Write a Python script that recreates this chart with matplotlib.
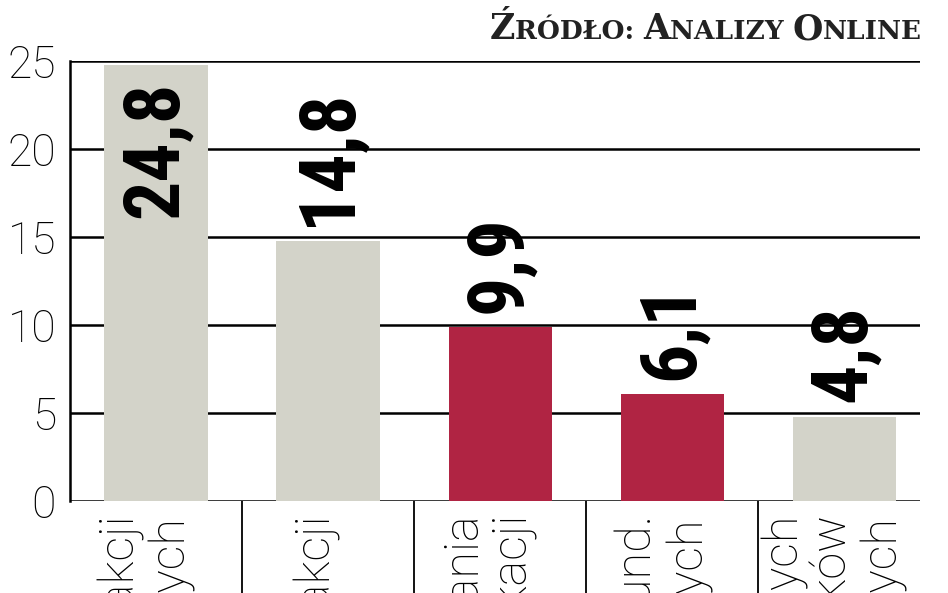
import matplotlib
matplotlib.use("Agg")
import matplotlib.pyplot as plt
from matplotlib.offsetbox import TextArea, HPacker, AnnotationBbox

# data
categories = ["Fundusze akcji\nzagranicznych",
              "Fundusze akcji",
              "Fundusze inwestowania\naktywnej alokacji",
              "Obligacji i fund.\nuniwersalnych",
              "Fundusze dłużnych\npapierów skarbowych i rynków\nzagranicznych"]
values = [24.8, 14.8, 9.9, 6.1, 4.8]
value_labels = ["24,8", "14,8", "9,9", "6,1", "4,8"]
highlight = [False, False, True, True, False]
yticks = [0, 5, 10, 15, 20, 25]

GRAY = "#d3d3c9"
RED = "#b02443"
LIGHT = ["Roboto", "DejaVu Sans"]
BOLD = ["Roboto Condensed", "DejaVu Sans"]
SLAB = ["DejaVu Serif"]

fig = plt.figure(figsize=(9.48, 5.93), dpi=100)
ax = fig.add_axes([70/948, 92/593, 850/948, 440/593])

x = list(range(len(values)))
cols = [RED if h else GRAY for h in highlight]
ax.bar(x, values, width=0.6, color=cols, zorder=2)

ax.set_xlim(-0.5, 4.44)
ax.set_ylim(0, 25)

for t in yticks:
    ax.axhline(t, color="black", lw=1.8, zorder=1)

for s in ["top", "right", "bottom"]:
    ax.spines[s].set_visible(False)
ax.spines["left"].set_linewidth(1.8)
ax.spines["left"].set_zorder(3)

ax.set_yticks(yticks)
ax.set_yticklabels([str(t) for t in yticks])
ax.tick_params(axis="y", length=0, pad=10)
ax.set_xticks([])
for lab in ax.get_yticklabels():
    lab.set_family(LIGHT)
    lab.set_fontweight("light")
    lab.set_fontsize(32)

# separators below the axis
ax.vlines([0.5, 1.5, 2.5, 3.5], -6, 0, color="black", lw=1.3, clip_on=False)

# value labels
vfont = dict(family=BOLD, weight="bold", fontsize=56, rotation=90,
             ha="center", color="black", zorder=4)
for i, (v, lbl) in enumerate(zip(values, value_labels)):
    if v > 20:
        ax.text(i, v - 0.9, lbl, va="top", **vfont)
    else:
        ax.text(i, v + 0.8, lbl, va="bottom", **vfont)

# category labels (cut off by the figure edge)
for i, c in enumerate(categories):
    ax.text(i - 0.06, -0.8, c, rotation=90, ha="center", va="top",
            multialignment="right", fontsize=35, fontweight="light",
            family=LIGHT, linespacing=1.05, clip_on=False)

# source in small caps
parts = [("Ź", 25), ("RÓDŁO: ", 19), ("A", 25), ("NALIZY ", 19),
         ("O", 25), ("NLINE", 19)]
areas = [TextArea(t, textprops=dict(family=SLAB, size=s,
                                     weight="bold", color="#222222"))
         for t, s in parts]
pack = HPacker(children=areas, align="baseline", pad=0, sep=0)
ab = AnnotationBbox(pack, (922/948, 1 - 46/593), xycoords="figure fraction",
                    box_alignment=(1, 0), frameon=False, pad=0)
fig.add_artist(ab)

fig.savefig("out.png", dpi=100)
